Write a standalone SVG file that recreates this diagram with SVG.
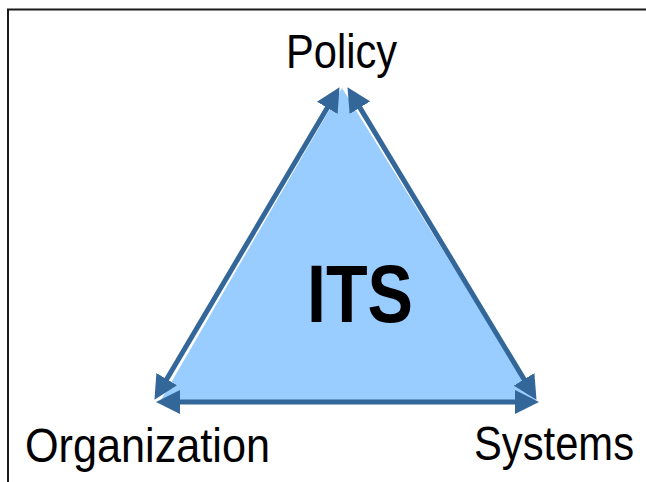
<svg xmlns="http://www.w3.org/2000/svg" width="646" height="482" viewBox="0 0 646 482">
  <style>
    .frame { fill: none; stroke: #1a1a1a; stroke-width: 2; }
    .edge { stroke: #336699; stroke-width: 5; fill: none; marker-start: url(#head); marker-end: url(#head); }
    .label { font-family: "Liberation Sans", Arial, sans-serif; font-size: 48px; fill: #000; }
    .core { font-family: "Liberation Sans", Arial, sans-serif; font-size: 82px; font-weight: bold; fill: #000; }
  </style>
  <defs>
    <marker id="head" viewBox="0 0 10 10" refX="5" refY="5" markerWidth="4.8" markerHeight="4.8" markerUnits="strokeWidth" orient="auto-start-reverse">
      <path d="M0,0 L10,5 L0,10 z" fill="#336699"/>
    </marker>
  </defs>

  <rect width="646" height="482" fill="#ffffff"/>
  <!-- open frame: top and left rules only -->
  <path class="frame" d="M8,482 V9.5 H646"/>

  <!-- central triangle -->
  <g id="its">
    <polygon points="342,88 161,400 536,400" fill="#99ccff"/>
    <text class="core" x="307" y="322" textLength="106" lengthAdjust="spacingAndGlyphs">ITS</text>
  </g>

  <!-- two-way links between the three corners -->
  <g id="connectors">
    <line class="edge" x1="333.4" y1="97.5" x2="160.6" y2="389.5"/>
    <line class="edge" x1="353.7" y1="97.4" x2="530.3" y2="389.6"/>
    <line class="edge" x1="168" y1="402" x2="527" y2="402"/>
  </g>

  <g id="policy">
    <text class="label" x="286" y="68" textLength="111" lengthAdjust="spacingAndGlyphs">Policy</text>
  </g>
  <g id="organization">
    <text class="label" x="25" y="462" textLength="245" lengthAdjust="spacingAndGlyphs">Organization</text>
  </g>
  <g id="systems">
    <text class="label" x="474" y="460" textLength="160" lengthAdjust="spacingAndGlyphs">Systems</text>
  </g>
</svg>
